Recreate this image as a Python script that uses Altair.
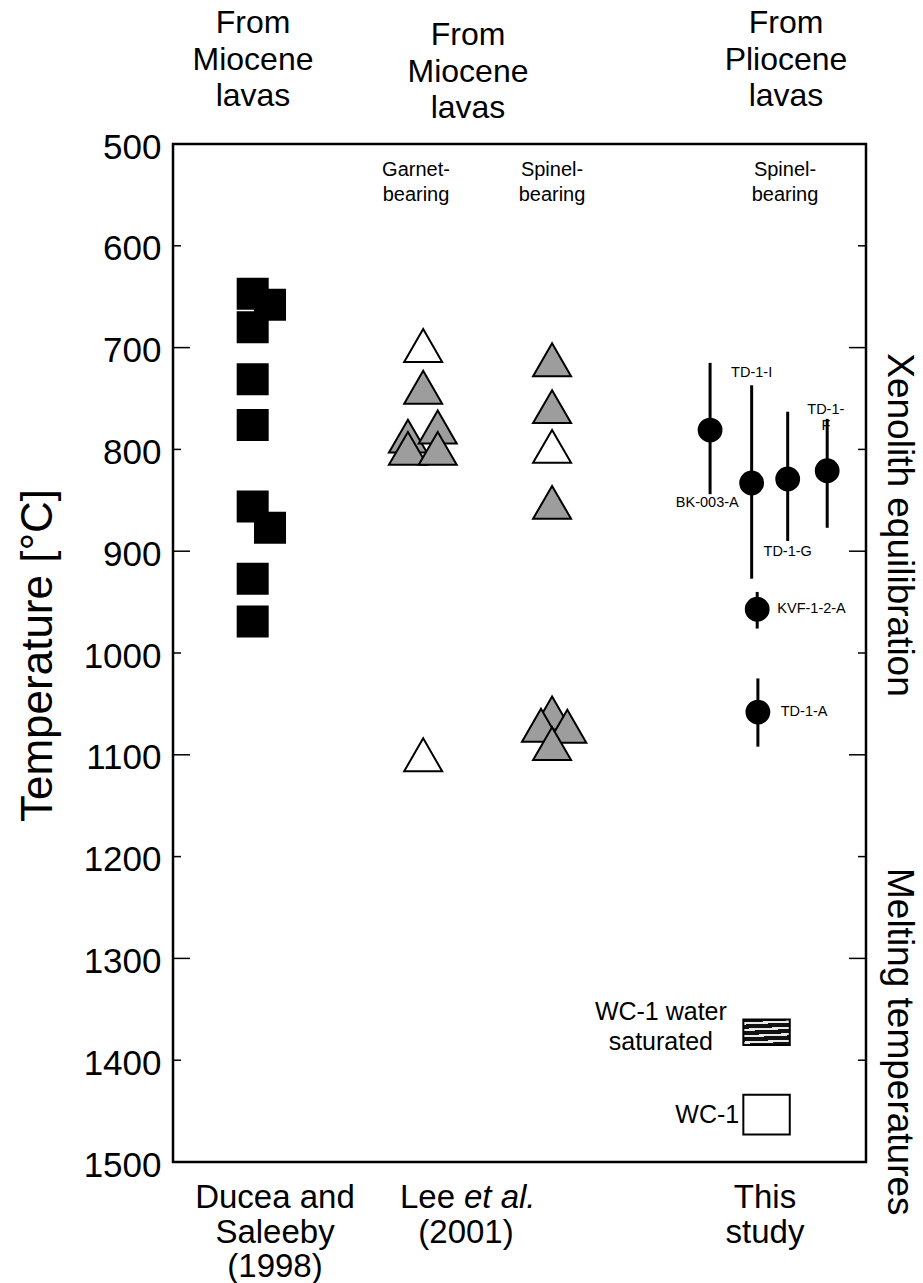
import altair as alt
import pandas as pd

# ---------------- data ----------------
# Ducea and Saleeby (1998): black squares (column position, temperature)
sq_x = [11.5, 11.5, 14.0, 11.5, 11.5, 11.5, 14.0, 11.5, 11.5]
sq_t = [647, 680, 658, 731, 776, 856, 877, 927, 969]

# Lee et al. (2001) garnet-bearing triangles
gar_x = [36.1, 36.1, 33.9, 38.2, 33.9, 38.2, 36.1]
gar_t = [698, 739, 787, 778, 799, 799, 1100]
gar_f = ["open", "gray", "gray", "gray", "gray", "gray", "open"]

# Lee et al. (2001) spinel-bearing triangles
sp_x = [54.7, 54.7, 54.7, 54.7, 54.7, 53.1, 56.9, 54.7]
sp_t = [712, 758, 797, 852, 1059, 1071, 1072, 1089]
sp_f = ["gray", "gray", "open", "gray", "gray", "gray", "gray", "gray"]

# This study: circles with error bars
c_name = ["BK-003-A", "TD-1-I", "TD-1-G", "TD-1-F", "KVF-1-2-A", "TD-1-A"]
c_x = [77.5, 83.5, 88.7, 94.4, 84.3, 84.4]
c_t = [781, 833, 829, 821, 957, 1058]
c_lo = [715, 737, 763, 770, 940, 1025]
c_hi = [844, 927, 890, 877, 976, 1092]

# sample labels (text, x, temperature, align)
lab_text = ["BK-003-A", "TD-1-I", "TD-1-G", "TD-1-", "F", "KVF-1-2-A", "TD-1-A"]
lab_x = [77.1, 83.5, 88.7, 94.2, 94.2, 87.2, 87.7]
lab_t = [853, 725, 901, 761, 777, 957, 1058]
lab_align = ["center", "center", "center", "center", "center", "left", "left"]

# WC-1 melting temperature boxes
wc_name = ["WC-1 water saturated", "WC-1"]
wc_x1 = [82.3, 82.3]
wc_x2 = [89.0, 89.0]
wc_t1 = [1360, 1434]
wc_t2 = [1385, 1473]

# axis ticks
major_ticks = [700, 900, 1100, 1300]
minor_ticks = [600, 800, 1000, 1200, 1400]
axis_values = [500, 600, 700, 800, 900, 1000, 1100, 1200, 1300, 1400, 1500]

# ---------------- layout ----------------
W, H = 693, 1018
FONT = "Liberation Sans"

xs = alt.Scale(domain=[0, 100], nice=False, zero=False)
ys = alt.Scale(domain=[500, 1500], nice=False, zero=False, reverse=True)
X = lambda f="x": alt.X(f"{f}:Q", scale=xs, axis=None)

yaxis = alt.Axis(values=axis_values, format="d", ticks=False, tickSize=0, domain=False, grid=False,
                 labelFontSize=35, labelFont=FONT, labelColor="black", labelPadding=12,
                 labelOffset=3, title="Temperature [°C]", titleFont=FONT, titleFontSize=44,
                 titleFontWeight="normal", titleColor="black", titleX=-135, titleY=511,
                 titleAngle=-90, titleAlign="center", titleBaseline="middle")

sq_df = pd.DataFrame({"x": sq_x, "t": sq_t})
tri_df = pd.DataFrame({"x": gar_x + sp_x, "t": gar_t + sp_t, "fill": gar_f + sp_f})
c_df = pd.DataFrame({"name": c_name, "x": c_x, "t": c_t, "lo": c_lo, "hi": c_hi})
lab_df = pd.DataFrame({"text": lab_text, "x": lab_x, "t": lab_t, "align": lab_align})
wc_df = pd.DataFrame({"name": wc_name, "x1": wc_x1, "x2": wc_x2, "t1": wc_t1, "t2": wc_t2})
tick_df = pd.DataFrame({"t": major_ticks + minor_ticks,
                        "kind": ["major"] * len(major_ticks) + ["minor"] * len(minor_ticks)})

squares = alt.Chart(sq_df).mark_square(size=1024, color="black", opacity=1).encode(
    x=X(), y=alt.Y("t:Q", scale=ys, axis=yaxis))

triangles = alt.Chart(tri_df).mark_point(
    shape="triangle-up", filled=True, size=1444, stroke="black", strokeWidth=2, opacity=1
).encode(
    x=X(), y=alt.Y("t:Q", scale=ys),
    color=alt.Color("fill:N", scale=alt.Scale(domain=["gray", "open"], range=["#9d9d9d", "white"]),
                    legend=None))

labels_c = alt.Chart(lab_df[lab_df["align"] == "center"]).mark_text(
    font=FONT, fontSize=14.5, align="center", baseline="middle", color="black").encode(
    x=X(), y=alt.Y("t:Q", scale=ys), text="text:N")
labels_l = alt.Chart(lab_df[lab_df["align"] == "left"]).mark_text(
    font=FONT, fontSize=14.5, align="left", baseline="middle", color="black").encode(
    x=X(), y=alt.Y("t:Q", scale=ys), text="text:N")

bars = alt.Chart(c_df).mark_rule(strokeWidth=3, color="black").encode(
    x=X(), y=alt.Y("lo:Q", scale=ys), y2="hi:Q")
circles = alt.Chart(c_df).mark_circle(size=616, color="black", opacity=1).encode(
    x=X(), y=alt.Y("t:Q", scale=ys))

# hatch pattern for water-saturated box
stops = []
n = 4
for i in range(n):
    a = i / n
    stops += [alt.GradientStop(offset=a, color="#111111"),
              alt.GradientStop(offset=a + 0.45 / n, color="#111111"),
              alt.GradientStop(offset=a + 0.45 / n, color="#e8e8e8"),
              alt.GradientStop(offset=a + 0.8 / n, color="#e8e8e8"),
              alt.GradientStop(offset=a + 0.8 / n, color="#111111")]
stops.append(alt.GradientStop(offset=1, color="#111111"))
hatch = alt.Gradient(gradient="linear", stops=stops, x1=0, y1=0, x2=0.08, y2=1)

wc_hatched = alt.Chart(wc_df[wc_df["name"] != "WC-1"]).mark_rect(
    fill=hatch, stroke="black", strokeWidth=2).encode(
    x=X("x1"), x2="x2:Q", y=alt.Y("t1:Q", scale=ys), y2="t2:Q")
wc_open = alt.Chart(wc_df[wc_df["name"] == "WC-1"]).mark_rect(
    fill="white", stroke="black", strokeWidth=2).encode(
    x=X("x1"), x2="x2:Q", y=alt.Y("t1:Q", scale=ys), y2="t2:Q")

# legend texts (in data units)
leg_df = pd.DataFrame({"text": ["WC-1 water", "saturated"], "x": [70.4, 70.4], "t": [1353, 1382]})
leg_txt = alt.Chart(leg_df).mark_text(font=FONT, fontSize=25, align="center", baseline="middle",
                                      color="black").encode(x=X(), y=alt.Y("t:Q", scale=ys), text="text:N")
leg_wc = alt.Chart(pd.DataFrame({"text": ["WC-1"], "x": [81.7], "t": [1454]})).mark_text(
    font=FONT, fontSize=25, align="right", baseline="middle", color="black").encode(
    x=X(), y=alt.Y("t:Q", scale=ys), text="text:N")

# inward ticks
ticks_l_major = alt.Chart(tick_df[tick_df.kind == "major"]).mark_rule(color="black", strokeWidth=1.5).encode(
    y=alt.Y("t:Q", scale=ys), x=alt.value(0), x2=alt.value(17))
ticks_l_minor = alt.Chart(tick_df[tick_df.kind == "minor"]).mark_rule(color="black", strokeWidth=1.5).encode(
    y=alt.Y("t:Q", scale=ys), x=alt.value(0), x2=alt.value(8))
ticks_r_major = alt.Chart(tick_df[tick_df.kind == "major"]).mark_rule(color="black", strokeWidth=1.5).encode(
    y=alt.Y("t:Q", scale=ys), x=alt.value(W - 17), x2=alt.value(W))
ticks_r_minor = alt.Chart(tick_df[tick_df.kind == "minor"]).mark_rule(color="black", strokeWidth=1.5).encode(
    y=alt.Y("t:Q", scale=ys), x=alt.value(W - 8), x2=alt.value(W))

# annotation text in pixel coordinates of the plot area
head_df = pd.DataFrame({
    "text": ["From", "Miocene", "lavas", "From", "Miocene", "lavas", "From", "Pliocene", "lavas"],
    "px": [80, 80, 80, 295, 295, 295, 613, 613, 613],
    "py": [-121, -84, -48, -109, -72, -36, -121, -84, -48]})
sub_df = pd.DataFrame({
    "text": ["Garnet-", "bearing", "Spinel-", "bearing", "Spinel-", "bearing"],
    "px": [243, 243, 379, 379, 612, 612],
    "py": [26, 51, 26, 51, 26, 51]})
bot_df = pd.DataFrame({
    "text": ["Ducea and", "Saleeby", "(1998)", "(2001)", "This", "study"],
    "px": [102, 102, 102, 293, 592, 592],
    "py": [1054, 1089, 1123, 1089, 1054, 1089]})


def ptext(df, size, align="center", style="normal", angle=0):
    return alt.Chart(df).mark_text(font=FONT, fontSize=size, align=align, baseline="middle",
                                   color="black", fontStyle=style, angle=angle).encode(
        x=alt.X("px:Q", scale=None, axis=None), y=alt.Y("py:Q", scale=None, axis=None),
        text="text:N")


heads = ptext(head_df, 32)
subs = ptext(sub_df, 20)
bots = ptext(bot_df, 33)
lee1 = ptext(pd.DataFrame({"text": ["Lee"], "px": [282], "py": [1054]}), 33, align="right")
lee2 = ptext(pd.DataFrame({"text": ["et al."], "px": [291], "py": [1054]}), 33, align="left", style="italic")
right1 = ptext(pd.DataFrame({"text": ["Xenolith equilibration"], "px": [726], "py": [381]}), 37, angle=90)
right2 = ptext(pd.DataFrame({"text": ["Melting temperatures"], "px": [726], "py": [724]}), 37,
               align="left", angle=90)

chart = alt.layer(
    ticks_l_major, ticks_l_minor, ticks_r_major, ticks_r_minor,
    squares, triangles, labels_c, labels_l, bars, circles,
    wc_hatched, wc_open, leg_txt, leg_wc,
    heads, subs, bots, lee1, lee2, right1, right2,
).properties(
    width=W, height=H,
    autosize=alt.AutoSizeParams(type="none"),
    padding={"left": 173, "top": 144, "right": 923 - 173 - W, "bottom": 1283 - 144 - H},
    background="white",
).configure_view(stroke="black", strokeWidth=2.5)

chart.save("out.html", embed_options={"renderer": "svg", "actions": False})
